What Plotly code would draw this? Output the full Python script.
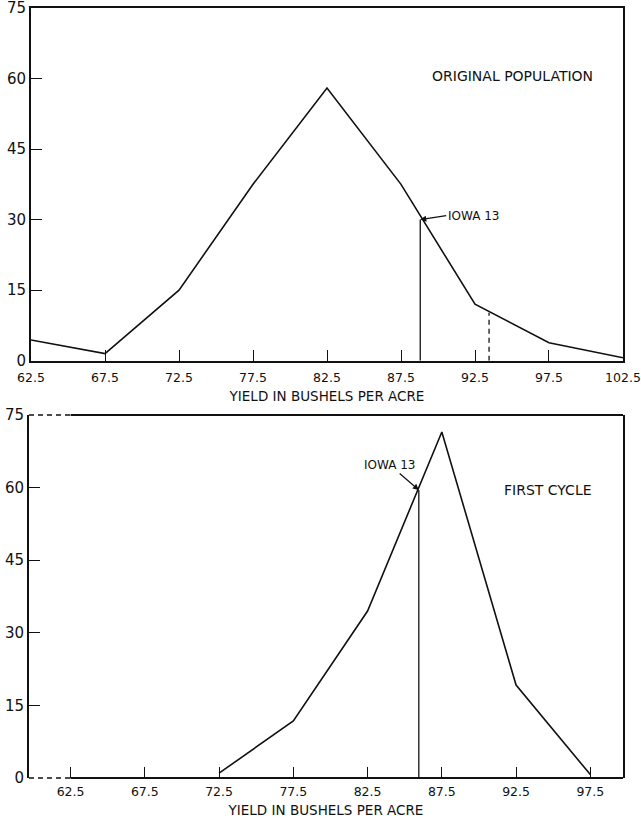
import plotly.graph_objects as go

# original population
orig_x = [62.5, 67.5, 72.5, 77.5, 82.5, 87.5, 92.5, 97.5, 102.5]
orig_y = [4.4, 1.5, 15, 37.5, 58, 37.5, 12, 3.8, 0.6]
orig_iowa_x = [88.8, 88.8]
orig_iowa_y = [0, 30]
orig_dash_x = [93.45, 93.45]
orig_dash_y = [0, 10.2]

# first cycle
cyc_x = [72.5, 77.5, 82.5, 87.5, 92.5, 97.5]
cyc_y = [1.0, 11.8, 34.5, 71.5, 19.2, 0.7]
cyc_iowa_x = [85.95, 85.95]
cyc_iowa_y = [0, 59.5]

x_ticks_top = [62.5, 67.5, 72.5, 77.5, 82.5, 87.5, 92.5, 97.5, 102.5]
x_ticks_bot = [62.5, 67.5, 72.5, 77.5, 82.5, 87.5, 92.5, 97.5]
y_ticks = [0, 15, 30, 45, 60, 75]
y_marks = [15, 30, 45, 60]

top_range = [62.5, 102.5]
bot_range = [59.7, 99.7]

ink = "#111111"
fnt = "DejaVu Sans"

fig = go.Figure()

line = dict(color=ink, width=1.6)
fig.add_trace(go.Scatter(x=orig_x, y=orig_y, mode="lines", line=line, xaxis="x", yaxis="y"))
fig.add_trace(go.Scatter(x=orig_iowa_x, y=orig_iowa_y, mode="lines",
                         line=dict(color=ink, width=1.3), xaxis="x", yaxis="y"))
fig.add_trace(go.Scatter(x=orig_dash_x, y=orig_dash_y, mode="lines",
                         line=dict(color=ink, width=1.3, dash="5px,4px"), xaxis="x", yaxis="y"))

fig.add_trace(go.Scatter(x=cyc_x, y=cyc_y, mode="lines", line=line, xaxis="x2", yaxis="y2"))
fig.add_trace(go.Scatter(x=cyc_iowa_x, y=cyc_iowa_y, mode="lines",
                         line=dict(color=ink, width=1.3), xaxis="x2", yaxis="y2"))

xcommon = dict(tickmode="array", ticks="inside", ticklen=11, tickcolor=ink, tickwidth=1.3,
               tickfont=dict(family=fnt, size=12.5, color=ink), ticklabelstandoff=4,
               ticklabeloverflow="allow",
               showgrid=False, zeroline=False, automargin=False,
               title=dict(text="YIELD IN BUSHELS PER ACRE", standoff=8,
                          font=dict(family=fnt, size=13.5, color=ink)))
ycommon = dict(range=[0, 75], tickmode="array", tickvals=y_ticks, ticks="",
               tickfont=dict(family=fnt, size=15, color=ink), ticklabeloverflow="allow",
               minor=dict(tickmode="array", tickvals=y_marks, ticks="inside", ticklen=11,
                          tickcolor=ink, tickwidth=1.3),
               showgrid=False, zeroline=False, automargin=False,
               showline=True, linecolor=ink, linewidth=1.8, mirror=True)

fig.update_layout(
    width=641, height=823,
    margin=dict(l=29, r=18, t=8, b=45),
    plot_bgcolor="white", paper_bgcolor="white",
    showlegend=False,
    xaxis=dict(xcommon, domain=[0.0034, 1], range=top_range, tickvals=x_ticks_top,
               ticktext=[str(v) for v in x_ticks_top],
               showline=True, linecolor=ink, linewidth=1.8, mirror=True, anchor="y"),
    yaxis=dict(ycommon, domain=[0.542, 1], anchor="x"),
    xaxis2=dict(xcommon, domain=[0, 1], range=bot_range, tickvals=x_ticks_bot,
                ticktext=[str(v) for v in x_ticks_bot], showline=False, anchor="y2"),
    yaxis2=dict(ycommon, domain=[0, 0.4714], anchor="x2"),
)

# bottom panel frame: dashed stub left of 62.5, solid from there on
for yy in (0, 1):
    fig.add_shape(type="line", xref="x2", yref="y2 domain", x0=bot_range[0], x1=x_ticks_bot[0],
                  y0=yy, y1=yy, line=dict(color=ink, width=1.6, dash="5px,4px"))
    fig.add_shape(type="line", xref="x2", yref="y2 domain", x0=x_ticks_bot[0], x1=bot_range[1],
                  y0=yy, y1=yy, line=dict(color=ink, width=1.8))

fig.add_annotation(xref="x domain", yref="y domain", x=0.813, y=0.808,
                   xanchor="center", yanchor="middle",
                   text="ORIGINAL POPULATION", showarrow=False,
                   font=dict(family=fnt, size=14, color=ink))
fig.add_annotation(xref="x2 domain", yref="y2 domain", x=0.874, y=0.793,
                   xanchor="center", yanchor="middle",
                   text="FIRST CYCLE", showarrow=False,
                   font=dict(family=fnt, size=14, color=ink))

fig.add_annotation(xref="x", yref="y", x=orig_iowa_x[1], y=orig_iowa_y[1],
                   text="IOWA 13", showarrow=True, ax=26, ay=-4, xanchor="left",
                   arrowhead=2, arrowsize=1, arrowwidth=1.2, arrowcolor=ink,
                   font=dict(family=fnt, size=12, color=ink))
fig.add_annotation(xref="x2", yref="y2", x=cyc_iowa_x[1], y=cyc_iowa_y[1],
                   text="IOWA 13", showarrow=True, ax=-29, ay=-25,
                   arrowhead=2, arrowsize=1, arrowwidth=1.2, arrowcolor=ink,
                   font=dict(family=fnt, size=12, color=ink))

# page body has a default margin; drop it so the figure sits at the window corner
fig.write_html("out.html", config={"displayModeBar": False},
               post_script="document.body.style.margin='0';")
